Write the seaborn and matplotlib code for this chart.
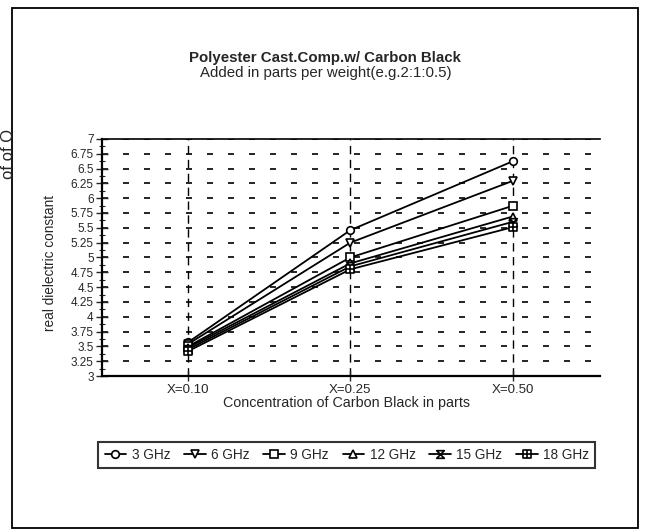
import numpy as np
import pandas as pd
import seaborn as sns
import matplotlib.pyplot as plt
from matplotlib.path import Path
from matplotlib.patches import Rectangle
from matplotlib.ticker import MultipleLocator

concentrations = ["X=0.10", "X=0.25", "X=0.50"]
frequencies = ["3 GHz", "6 GHz", "9 GHz", "12 GHz", "15 GHz", "18 GHz"]
ghz3 = [3.57, 5.46, 6.62]
ghz6 = [3.54, 5.25, 6.29]
ghz9 = [3.50, 5.00, 5.87]
ghz12 = [3.48, 4.90, 5.69]
ghz15 = [3.45, 4.85, 5.60]
ghz18 = [3.42, 4.80, 5.51]
yticks = np.arange(3, 7.01, 0.25)

rows = []
for freq, vals in zip(frequencies, [ghz3, ghz6, ghz9, ghz12, ghz15, ghz18]):
    for conc, v in zip(concentrations, vals):
        rows.append({"conc": conc, "freq": freq, "eps": v})
df = pd.DataFrame(rows)

sns.set_style("white")
plt.rcParams['font.family'] = ['Liberation Sans', 'DejaVu Sans']

# custom markers
hourglass = Path([(-1, 1), (1, 1), (-1, -1), (1, -1), (-1, 1)],
                 [Path.MOVETO, Path.LINETO, Path.LINETO, Path.LINETO, Path.CLOSEPOLY])
boxplus = Path([(-1, -1), (1, -1), (1, 1), (-1, 1), (-1, -1),
                (0, -1), (0, 1), (-1, 0), (1, 0)],
               [Path.MOVETO, Path.LINETO, Path.LINETO, Path.LINETO, Path.CLOSEPOLY,
                Path.MOVETO, Path.LINETO, Path.MOVETO, Path.LINETO])
markers = ["o", "v", "s", "^", hourglass, boxplus]

fig = plt.figure(figsize=(6.46, 5.32), dpi=100)
ax = fig.add_axes([0.158, 0.293, 0.771, 0.446])

sns.lineplot(data=df, x="conc", y="eps", hue="freq", hue_order=frequencies,
             palette=["black"] * 6, errorbar=None, sort=False, legend=False,
             linewidth=1.3, ax=ax)

for line, m in zip(ax.lines, markers):
    line.set_marker(m)
    line.set_markersize(5.5)
    line.set_markerfacecolor("white")
    line.set_markeredgecolor("black")
    line.set_markeredgewidth(1.2)

ax.set_ylim(3, 7)
ax.set_xlim(-0.53, 2.54)
ax.set_yticks(yticks)
ax.set_yticklabels([f"{t:g}" for t in yticks], fontsize=8.5)
ax.yaxis.set_minor_locator(MultipleLocator(0.125))
ax.tick_params(axis="y", which="major", direction="inout", length=8, width=1, left=True, pad=2)
ax.tick_params(axis="y", which="minor", direction="inout", length=5, width=0.8, left=True)
ax.tick_params(axis="x", direction="inout", length=7, width=1, bottom=True, labelsize=9.5, pad=2)
ax.set_xlabel("")
ax.set_ylabel("")

ax.grid(False)
for t in yticks[1:]:
    ax.axhline(t, color="black", lw=1.2, ls=(0, (3.6, 9)), zorder=0)
for i in range(len(concentrations)):
    ax.axvline(i, color="black", lw=1, ls=(0, (6, 4)), zorder=0)

for s in ["left", "bottom"]:
    ax.spines[s].set_color("black")
    ax.spines[s].set_linewidth(1.6)
ax.spines["top"].set_color("black")
ax.spines["top"].set_linewidth(1.2)
ax.spines["right"].set_visible(False)

fig.text(0.503, 0.891, "Polyester Cast.Comp.w/ Carbon Black", ha="center", va="center",
         fontsize=10.8, fontweight="bold")
fig.text(0.505, 0.863, "Added in parts per weight(e.g.2:1:0.5)", ha="center", va="center",
         fontsize=10.8)
fig.text(0.077, 0.505, "real dielectric constant", rotation=90, ha="center", va="center",
         fontsize=9.8)
fig.text(0.536, 0.242, "Concentration of Carbon Black in parts", ha="center", va="center",
         fontsize=10.3)

# scanned page-edge fragment at the far left
fig.text(0.001, 0.71, "of of O", rotation=90, ha="left", va="center", fontsize=12)

leg = fig.legend(ax.lines[:6], frequencies, loc="center", bbox_to_anchor=(0.537, 0.145),
                 ncol=6, fontsize=9.8, frameon=True, fancybox=False, shadow=False,
                 handlelength=1.6, handletextpad=0.4, columnspacing=1.0,
                 borderpad=0.45, edgecolor="black")
leg.get_frame().set_linewidth(1.5)

fig.patches.append(Rectangle((12 / 646, 1 - 528 / 532), 626 / 646, 520 / 532,
                             transform=fig.transFigure, fill=False, edgecolor="black",
                             lw=1.3))

fig.savefig("out.png", dpi=100)
plt.close(fig)
